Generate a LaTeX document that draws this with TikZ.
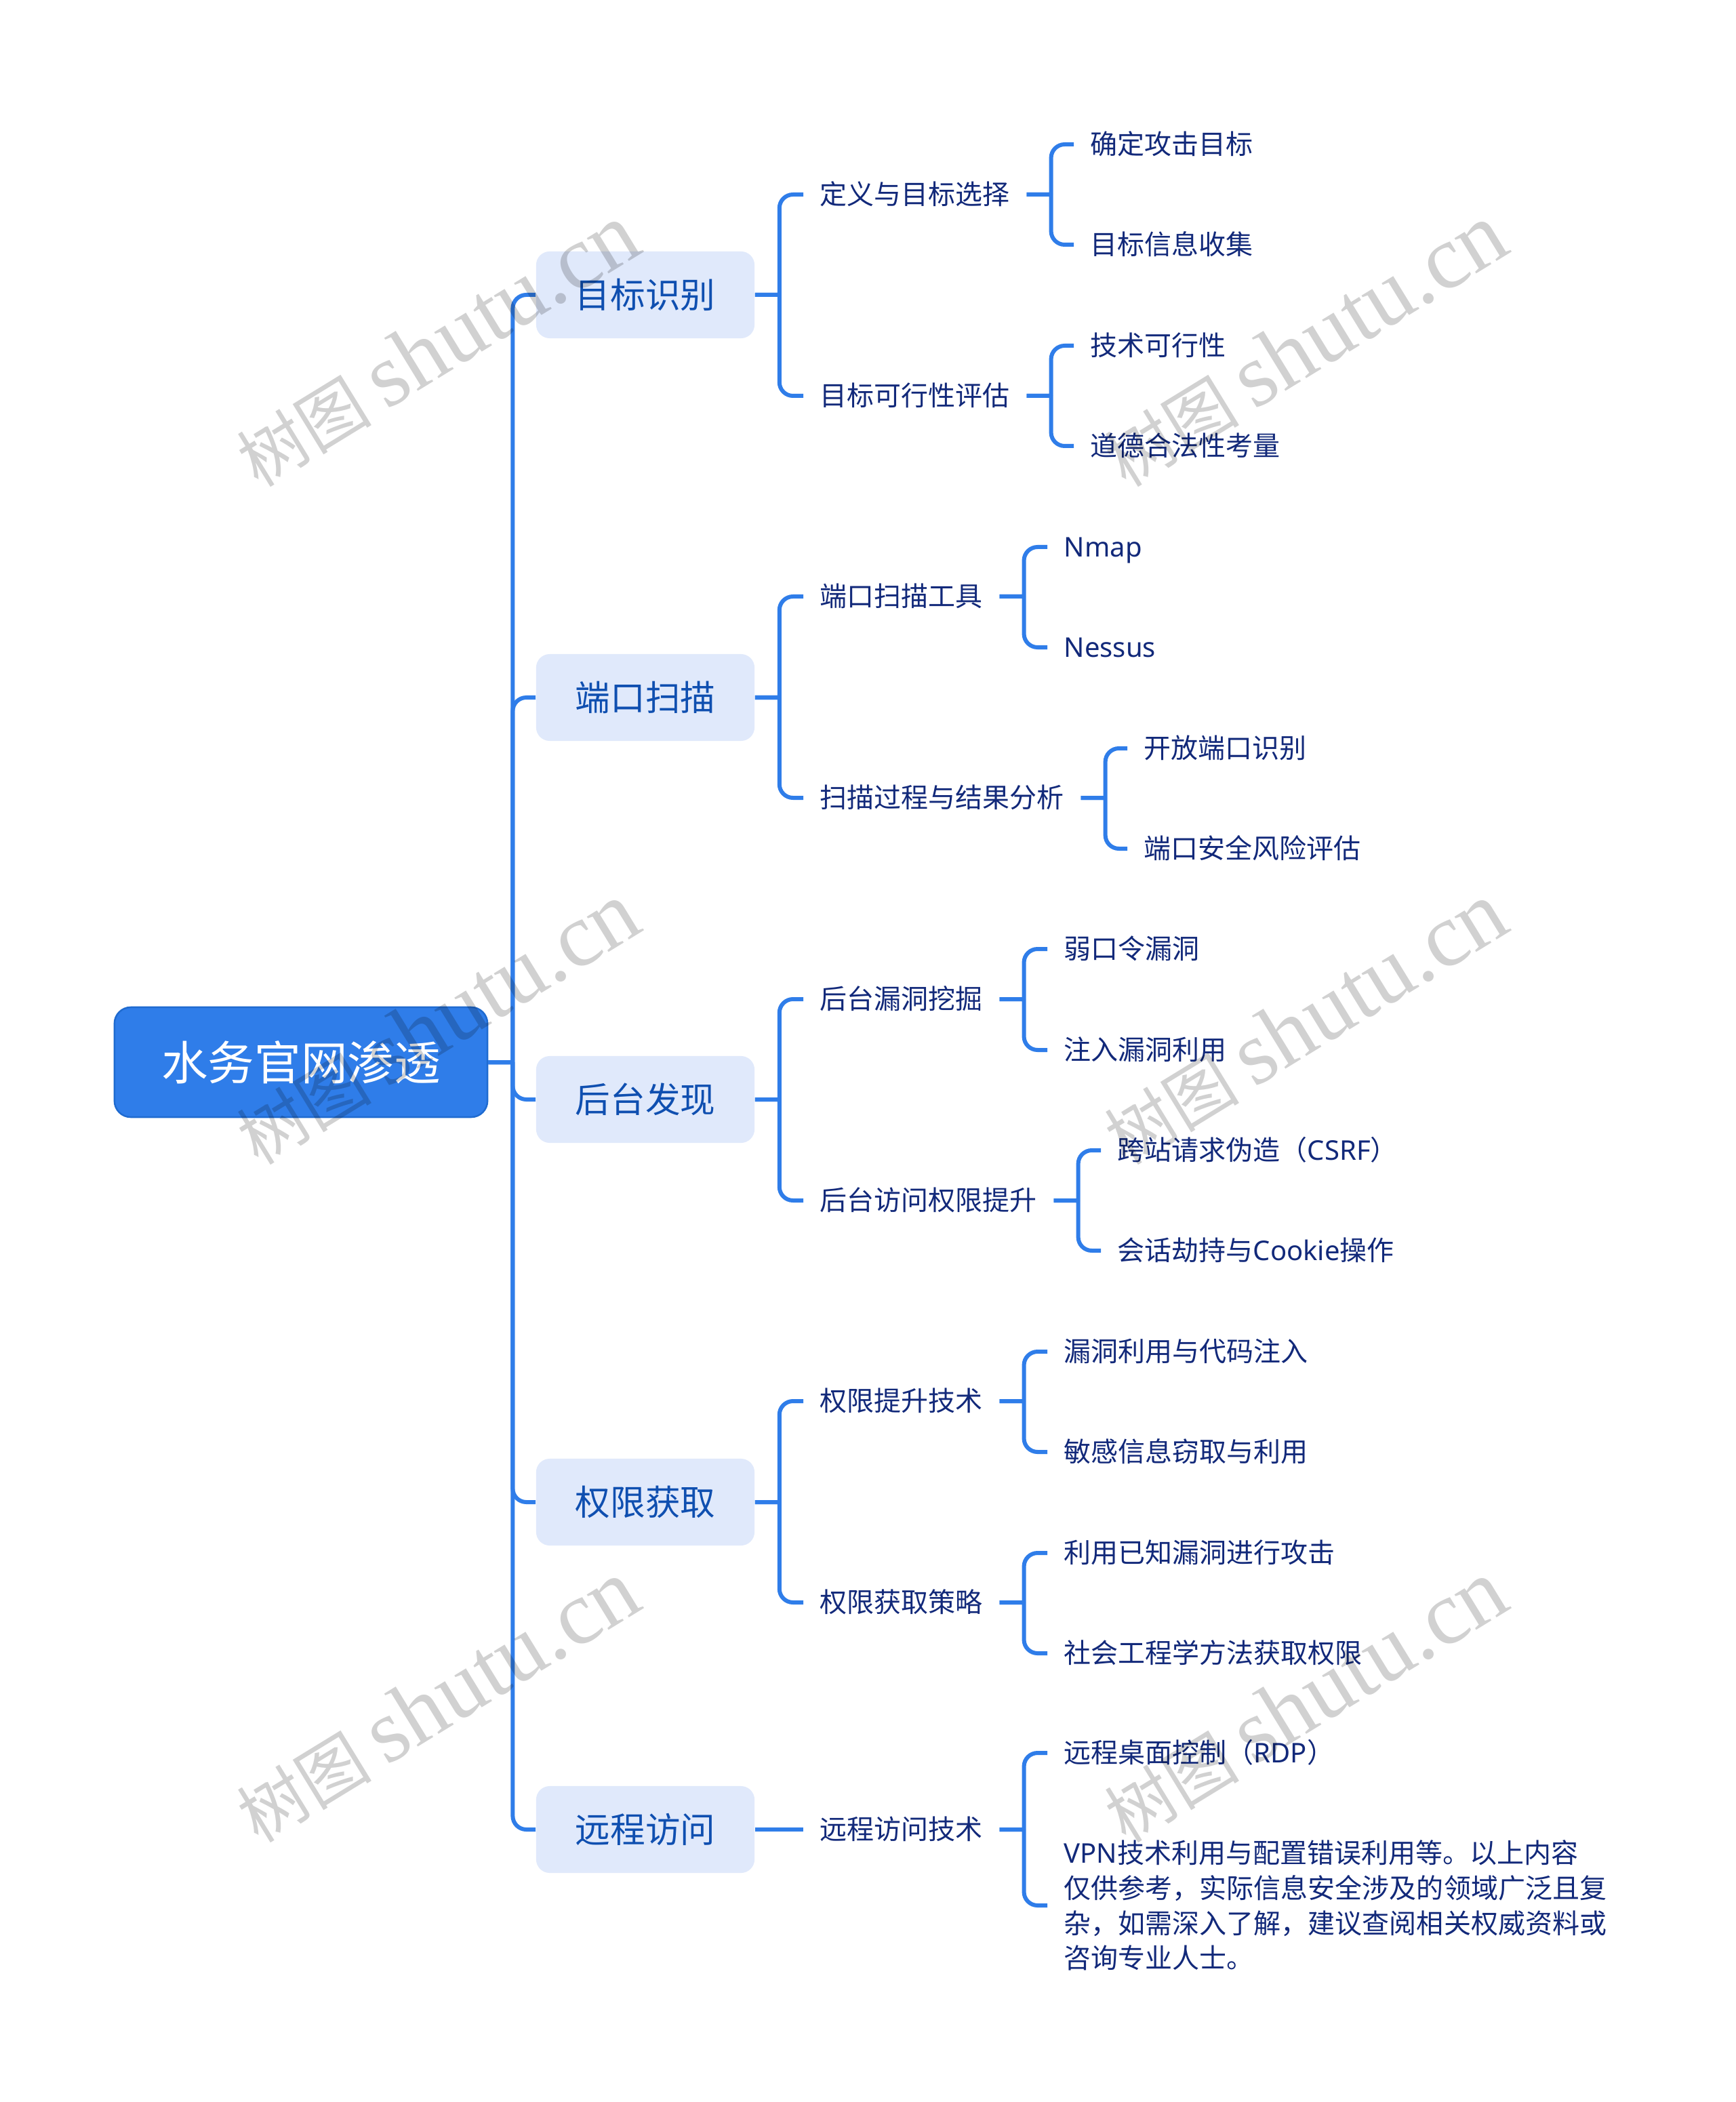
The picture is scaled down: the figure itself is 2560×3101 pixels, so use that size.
\documentclass[tikz,border=0pt]{standalone}
\usepackage{fontspec}
\setmainfont{Noto Sans CJK SC}
\newfontfamily\wmlatin{Liberation Serif}
\newfontfamily\latface{Noto Sans}
\definecolor{linkblue}{HTML}{2F7DE9}
\definecolor{rootedge}{HTML}{1F6BD0}
\definecolor{mainfill}{HTML}{E0E9FB}
\definecolor{maintext}{HTML}{0F4FB0}
\definecolor{subtext}{HTML}{12297A}
\tikzset{
    rootbox/.style={draw=rootedge, line width=0.7pt, fill=linkblue, text=white, rounded corners=0.24cm,
        minimum width=5.5cm, minimum height=1.62cm, font=\fontsize{19.5}{24}\selectfont},
    mainbox/.style={fill=mainfill, text=maintext, rounded corners=0.2cm,
        minimum width=3.22cm, minimum height=1.28cm, font=\fontsize{14.7}{18}\selectfont},
    subbox/.style={anchor=west, text=subtext, inner xsep=0.24cm, inner ysep=0pt, align=left,
        font=\fontsize{11.38}{14.7}\selectfont},
    leafbox/.style={subbox, text height=0.35cm, text depth=0.06cm},
    straightlink/.style={draw=linkblue, line width=0.06cm},
    link/.style={straightlink,
        to path={(\tikztostart) -- ++(36,0) ++(0,0) [rounded corners=0.2cm] |- (\tikztotarget)}},
    watermark/.style={rotate=31.5, text=black, opacity=0.18, inner sep=0pt}
}

\begin{document}
\begin{tikzpicture}[x=0.01cm, y=-0.01cm]
    \useasboundingbox[fill=white] (0,0) rectangle (2560,3101);

    % Root
    \node[rootbox] (root) at (444, 1567) {水务官网渗透};

    % Main topics
    \node[mainbox] (target) at (952, 435) {目标识别};
    \node[mainbox] (port) at (952, 1029) {端口扫描};
    \node[mainbox] (backend) at (952, 1622) {后台发现};
    \node[mainbox] (priv) at (952, 2216) {权限获取};
    \node[mainbox] (remote) at (952, 2699) {远程访问};

    % Second level
    \node[leafbox] (targetA) at (1185, 287) {定义与目标选择};
    \node[leafbox] (targetB) at (1185, 584) {目标可行性评估};
    \node[leafbox] (portA) at (1185, 880) {端口扫描工具};
    \node[leafbox] (portB) at (1185, 1177) {扫描过程与结果分析};
    \node[leafbox] (backendA) at (1185, 1474) {后台漏洞挖掘};
    \node[leafbox] (backendB) at (1185, 1771) {后台访问权限提升};
    \node[leafbox] (privA) at (1185, 2067) {权限提升技术};
    \node[leafbox] (privB) at (1185, 2364) {权限获取策略};
    \node[leafbox] (remoteA) at (1185, 2699) {远程访问技术};

    % Third level
    \node[leafbox] (leafA) at (1584, 213) {确定攻击目标};
    \node[leafbox] (leafB) at (1584, 361) {目标信息收集};
    \node[leafbox] (leafC) at (1584, 510) {技术可行性};
    \node[leafbox] (leafD) at (1584, 658) {道德合法性考量};
    \node[leafbox] (leafE) at (1545, 807) {\latface Nmap};
    \node[leafbox] (leafF) at (1545, 955) {\latface Nessus};
    \node[leafbox] (leafG) at (1663, 1104) {开放端口识别};
    \node[leafbox] (leafH) at (1663, 1252) {端口安全风险评估};
    \node[leafbox] (leafI) at (1545, 1400) {弱口令漏洞};
    \node[leafbox] (leafJ) at (1545, 1549) {注入漏洞利用};
    \node[leafbox] (leafK) at (1624, 1697) {跨站请求伪造（{\latface CSRF}）};
    \node[leafbox] (leafL) at (1624, 1845) {会话劫持与{\latface Cookie}操作};
    \node[leafbox] (leafM) at (1545, 1994) {漏洞利用与代码注入};
    \node[leafbox] (leafN) at (1545, 2142) {敏感信息窃取与利用};
    \node[leafbox] (leafO) at (1545, 2291) {利用已知漏洞进行攻击};
    \node[leafbox] (leafP) at (1545, 2439) {社会工程学方法获取权限};
    \node[leafbox] (leafQ) at (1545, 2586) {远程桌面控制（{\latface RDP}）};
    \node[subbox] (leafR) at (1545, 2811) {{\latface VPN}技术利用与配置错误利用等。以上内容\\
        仅供参考，实际信息安全涉及的领域广泛且复\\
        杂，如需深入了解，建议查阅相关权威资料或\\
        咨询专业人士。};

    % Connectors
    \foreach \from/\to in {root/target, root/port, root/backend, root/priv, root/remote,
        target/targetA, target/targetB, port/portA, port/portB, backend/backendA,
        backend/backendB, priv/privA, priv/privB,
        targetA/leafA, targetA/leafB, targetB/leafC, targetB/leafD,
        portA/leafE, portA/leafF, portB/leafG, portB/leafH,
        backendA/leafI, backendA/leafJ, backendB/leafK, backendB/leafL,
        privA/leafM, privA/leafN, privB/leafO, privB/leafP,
        remoteA/leafQ, remoteA/leafR}
        \draw[link] (\from.east) to (\to.west);
    \draw[straightlink] (remote.east) -- (remoteA.west);

    % Watermarks
    \foreach \wx/\wy [count=\i] in {645/510, 1925/510, 645/1510, 1925/1510, 645/2510, 1925/2510}
        \node[watermark] (mark\i) at (\wx, \wy) {\fontsize{28.3}{40}\selectfont 树图 {\wmlatin\fontsize{37.9}{40}\selectfont shutu.cn}};
\end{tikzpicture}
\end{document}
